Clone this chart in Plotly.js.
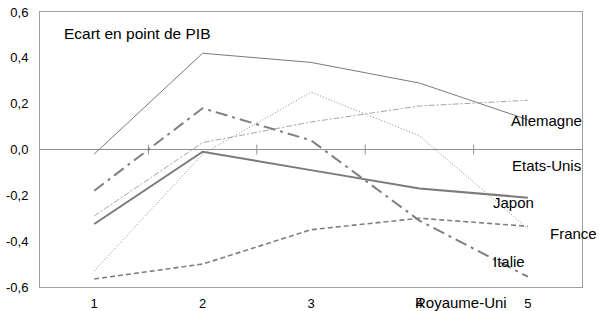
<!DOCTYPE html>
<html><head><meta charset="utf-8">
<script src="https://cdn.plot.ly/plotly-3.0.1.min.js"></script>
<style>html,body{margin:0;padding:0;background:#fff}#c{width:599px;height:311px}</style>
</head><body><div id="c"></div>
<script>
const periods = [1, 2, 3, 4, 5];
const tickLabels = ["1", "2", "3", "4", "5"];
const boundaries = [1.5, 2.5, 3.5, 4.5];
const yTicks = [0.6, 0.4, 0.2, 0.0, -0.2, -0.4, -0.6];
const yTickLabels = ["0,6", "0,4", "0,2", "0,0", "-0,2", "-0,4", "-0,6"];
const allemagne = [-0.02, 0.42, 0.38, 0.29, 0.13];
const etatsUnis = [-0.29, 0.03, 0.12, 0.19, 0.215];
const japon = [-0.325, -0.01, -0.09, -0.17, -0.21];
const france = [-0.53, -0.02, 0.25, 0.06, -0.345];
const italie = [-0.18, 0.18, 0.04, -0.31, -0.555];
const royaumeUni = [-0.565, -0.50, -0.35, -0.30, -0.335];
const seriesNames = ["Allemagne", "Etats-Unis", "Japon", "France", "Italie", "Royaume-Uni"];
const title = "Ecart en point de PIB";

const styles = [
  {color: "#7a7a7a", width: 1, dash: "solid"},
  {color: "#a6a6a6", width: 1, dash: "6px,2px,2px,2px"},
  {color: "#7a7a7a", width: 2, dash: "solid"},
  {color: "#8a8a8a", width: 1, dash: "1px,2px"},
  {color: "#7f7f7f", width: 2, dash: "12px,5px,3px,5px"},
  {color: "#808080", width: 1.6, dash: "5px,3px"}
];
const values = [allemagne, etatsUnis, japon, france, italie, royaumeUni];
// tick marks on the zero line, at category boundaries
const traces = [{
  x: boundaries, y: boundaries.map(() => 0), type: "scatter", mode: "markers",
  marker: {symbol: "line-ns", size: 7, line: {color: "#909090", width: 1}},
  hoverinfo: "skip", showlegend: false, cliponaxis: false
}];
values.forEach((v, i) => traces.push({
  x: periods, y: v, type: "scatter", mode: "lines", name: seriesNames[i],
  line: styles[i], hoverinfo: "skip", cliponaxis: false
}));

const font = "Liberation Sans, Arial, sans-serif";
const labelPos = [
  {x: 4.83, y: 0.127, yref: "y"}, {x: 4.84, y: -0.07, yref: "y"}, {x: 4.66, y: -0.23, yref: "y"},
  {x: 5.19, y: -0.367, yref: "y"}, {x: 4.66, y: -0.49, yref: "y"}, {x: 3.94, y: -0.055, yref: "paper"}
];
const annotations = seriesNames.map((n, i) => ({
  text: n, x: labelPos[i].x, y: labelPos[i].y, xref: "x", yref: labelPos[i].yref,
  xanchor: "left", yanchor: "middle", showarrow: false,
  font: {family: font, size: 15, color: "#000"}
}));
annotations.push({text: title, x: 0.7, y: 0.505, xref: "x", yref: "y", xanchor: "left",
  yanchor: "middle", showarrow: false, font: {family: font, size: 15.5, color: "#000"}});

const layout = {
  width: 599, height: 311,
  margin: {l: 40, r: 17, t: 12, b: 24},
  paper_bgcolor: "#fff", plot_bgcolor: "#fff",
  showlegend: false,
  font: {family: font, size: 13, color: "#000"},
  xaxis: {range: [0.5, 5.5], tickvals: periods, ticktext: tickLabels, ticks: "",
    showgrid: false, zeroline: false, showline: true, linecolor: "#a0a0a0", linewidth: 1,
    mirror: true, ticklabelstandoff: 4, tickfont: {size: 13}},
  yaxis: {range: [-0.6, 0.6], tickvals: yTicks, ticktext: yTickLabels, ticks: "",
    showgrid: false, zeroline: true, zerolinecolor: "#909090", zerolinewidth: 1,
    showline: true, linecolor: "#a0a0a0", linewidth: 1,
    mirror: true, ticklabelstandoff: 8, tickfont: {size: 13}},
  annotations: annotations
};
Plotly.newPlot("c", traces, layout, {staticPlot: true, displayModeBar: false});
</script></body></html>
